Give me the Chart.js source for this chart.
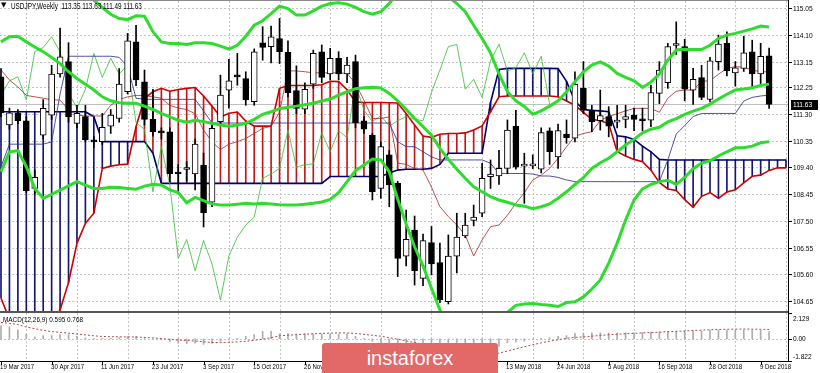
<!DOCTYPE html>
<html>
<head>
<meta charset="utf-8">
<script src="https://cdn.jsdelivr.net/npm/chart.js@4.4.0/dist/chart.umd.min.js"></script>
<style>
  html, body { margin: 0; padding: 0; background: #fff; }
  #wrap { position: relative; width: 820px; height: 373px; overflow: hidden; background: #fff; }
  #mainChart { position: absolute; left: 0; top: 0; }
  #macdChart { position: absolute; left: 0; top: 312px; }
  #logo { position: absolute; left: 322px; top: 343px; width: 176px; height: 30px; background: #e36868;
          border-radius: 3px 3px 0 0; color: #fff; font: 20px "Liberation Sans", Arial, sans-serif;
          line-height: 30px; text-align: center; }
</style>
</head>
<body>
<div id="wrap">
  <canvas id="mainChart" width="820" height="312"></canvas>
  <canvas id="macdChart" width="820" height="61"></canvas>
  <div id="logo">instaforex</div>
</div>
<script>
// USDJPY weekly, bar 0 = 19 Mar 2017, last bar = 16 Dec 2018
const dateLabels = ['19 Mar 2017', '30 Apr 2017', '11 Jun 2017', '23 Jul 2017', '3 Sep 2017', '15 Oct 2017',
    '26 Nov 2017', '7 Jan 2018', '18 Feb 2018', '1 Apr 2018', '13 May 2018', '24 Jun 2018',
    '5 Aug 2018', '16 Sep 2018', '28 Oct 2018', '9 Dec 2018'];
const dateTickBars = [0, 6, 12, 18, 24, 30, 36, 42, 48, 54, 60, 66, 72, 78, 84, 90];
const priceTicks = [115.05, 114.10, 113.15, 112.25, 111.30, 110.35, 109.40, 108.45, 107.50, 106.55, 105.60, 104.65];
const priceTickLabels = ['115.05', '114.10', '113.15', '112.25', '111.30', '110.35', '109.40', '108.45', '107.50', '106.55', '105.60', '104.65'];
const macdTicks = [2.129, 0, -1.822];
const macdTickLabels = ['2.129', '0.00', '-1.822'];

const openPrices = [112.61, 110.90, 111.33, 111.05, 108.65, 110.54, 111.25, 112.71, 113.15, 110.96,
    111.20, 110.33, 110.31, 110.86, 111.13, 112.08, 113.85, 112.43, 111.10, 110.64,
    110.66, 109.18, 109.32, 109.16, 109.48, 108.16, 111.02, 112.14, 112.63, 112.55,
    111.73, 113.82, 113.68, 113.97, 113.48, 112.12, 111.46, 112.35, 113.50, 112.71,
    113.27, 112.71, 113.15, 111.05, 110.54, 108.65, 109.84, 108.83, 106.25, 107.17,
    105.46, 106.73, 106.02, 104.63, 106.25, 106.96, 107.51, 107.77, 109.07, 109.09,
    109.36, 110.86, 109.44, 109.45, 109.33, 110.69, 109.77, 110.58, 110.43, 112.20,
    111.40, 111.05, 111.20, 111.00, 111.10, 111.25, 111.09, 111.07, 112.02, 112.40,
    113.72, 113.68, 112.14, 112.58, 111.81, 113.15, 113.80, 112.75, 112.91, 113.50,
    112.71, 113.35];
const highPrices = [112.90, 111.50, 111.45, 111.20, 109.30, 111.80, 113.02, 114.34, 113.82, 111.60,
    111.60, 110.50, 111.31, 111.45, 112.90, 114.15, 114.44, 112.85, 112.17, 110.80,
    110.80, 109.50, 109.60, 110.40, 109.90, 110.90, 112.67, 113.23, 113.44, 112.79,
    113.60, 114.39, 114.41, 114.68, 113.89, 113.00, 112.40, 113.56, 113.74, 113.62,
    113.50, 113.30, 113.38, 111.20, 110.60, 110.30, 110.00, 108.90, 107.88, 107.67,
    107.03, 107.30, 106.71, 107.00, 107.77, 107.77, 108.06, 109.54, 109.66, 110.00,
    111.08, 111.42, 109.90, 109.84, 110.80, 110.80, 110.93, 111.08, 112.79, 113.15,
    111.60, 112.14, 111.55, 111.60, 111.60, 111.50, 111.50, 112.32, 113.15, 113.80,
    114.56, 113.94, 112.91, 113.02, 113.30, 114.09, 114.21, 113.15, 114.05, 113.91,
    113.80, 113.63];
const lowPrices = [111.20, 110.75, 110.95, 108.50, 108.45, 110.40, 111.10, 112.60, 111.00, 110.80,
    110.30, 110.10, 110.20, 110.60, 111.00, 112.00, 112.30, 110.90, 110.50, 110.40,
    108.89, 108.50, 108.90, 108.60, 107.28, 108.00, 110.90, 111.50, 112.31, 111.60,
    111.60, 113.20, 113.10, 113.08, 111.90, 111.30, 111.30, 112.20, 112.40, 112.50,
    112.50, 112.40, 110.80, 110.60, 108.24, 108.30, 108.00, 105.52, 105.90, 105.22,
    105.20, 105.58, 104.60, 104.55, 105.65, 106.90, 107.32, 107.65, 108.65, 108.79,
    109.17, 109.33, 108.12, 109.35, 109.20, 109.50, 109.36, 110.25, 110.30, 111.30,
    110.66, 110.72, 110.48, 110.80, 110.80, 110.70, 110.70, 110.84, 111.66, 112.20,
    113.40, 111.76, 111.63, 111.80, 111.73, 112.85, 112.64, 112.28, 112.80, 112.23,
    112.37, 111.49];
const closePrices = [111.33, 111.33, 111.05, 108.57, 109.04, 111.49, 112.71, 113.32, 111.19, 111.31,
    110.37, 110.30, 110.82, 111.25, 112.35, 113.89, 112.50, 111.10, 110.66, 110.62,
    109.16, 109.16, 109.34, 110.22, 107.79, 110.78, 111.96, 112.47, 112.61, 111.79,
    113.50, 113.65, 114.03, 113.50, 112.05, 111.49, 112.17, 113.44, 112.59, 113.27,
    112.71, 113.03, 110.98, 110.75, 108.53, 110.13, 108.77, 106.17, 106.84, 105.73,
    106.80, 105.97, 104.69, 106.25, 106.92, 107.35, 107.63, 109.01, 109.16, 109.36,
    110.72, 109.40, 109.50, 109.52, 110.63, 109.95, 110.70, 110.45, 112.34, 111.43,
    111.02, 111.23, 110.86, 111.05, 111.20, 111.10, 111.05, 112.05, 112.85, 113.68,
    113.76, 112.17, 112.52, 111.88, 113.18, 113.77, 112.82, 112.93, 113.46, 112.71,
    113.34, 111.63];

// Ichimoku
const tenkan = [112.85, 112.50, 112.25, 111.95, 111.90, 111.85, 111.80, 111.78, 111.45, 111.25,
    111.22, 111.22, 111.22, 111.60, 111.80, 111.90, 111.95, 111.95, 111.90, 111.85,
    111.60, 111.50, 111.45, 111.30, 110.72, 110.30, 110.03, 110.22, 110.31, 110.42,
    110.60, 110.78, 110.86, 111.35, 112.82, 112.82, 112.79, 112.75, 112.75, 112.75,
    112.75, 112.73, 112.38, 111.78, 111.13, 111.13, 111.19, 109.55, 109.50, 109.35,
    109.30, 108.70, 108.00, 107.65, 107.35, 107.00, 106.25, 106.82, 107.29, 107.35,
    107.70, 108.12, 108.50, 108.95, 109.12, 109.36, 109.72, 110.13, 110.50, 110.60,
    110.66, 111.07, 111.20, 111.30, 111.40, 111.49, 111.49, 111.49, 111.35, 111.85,
    112.10, 112.14, 112.14, 112.45, 112.47, 112.70, 112.91, 112.97, 112.95, 112.85,
    112.79, 112.79];
const kijun = [109.42, 110.22, 110.22, 110.22, 110.22, 110.22, 110.30, 112.00, 113.34, 113.34,
    113.34, 113.34, 113.34, 113.34, 113.30, 112.97, 111.85, 111.81, 111.81, 111.81,
    111.81, 111.81, 111.81, 111.81, 111.40, 110.97, 110.97, 110.97, 110.97, 110.97,
    110.97, 110.97, 110.97, 110.97, 110.97, 110.97, 110.97, 110.97, 110.97, 110.97,
    110.97, 110.97, 110.97, 110.97, 110.97, 110.97, 110.97, 110.31, 110.13, 110.13,
    109.95, 109.77, 109.66, 109.66, 109.66, 109.66, 109.66, 109.66, 109.54, 109.18,
    109.18, 109.18, 109.18, 109.16, 109.09, 109.09, 109.04, 108.95, 108.89, 108.89,
    108.89, 108.89, 108.89, 108.89, 108.89, 108.89, 108.89, 108.89, 108.90, 109.66,
    110.58, 110.88, 111.20, 111.31, 111.31, 111.31, 111.31, 111.31, 111.75, 111.88,
    111.93, 111.96];
const chikou = [111.96, 112.47, 112.61, 111.79, 113.50, 113.65, 114.03, 113.50, 112.05, 111.49,
    112.17, 113.44, 112.59, 113.27, 112.71, 113.03, 110.98, 110.75, 108.53, 110.13,
    108.77, 106.17, 106.84, 105.73, 106.80, 105.97, 104.69, 106.25, 106.92, 107.35,
    107.63, 109.01, 109.16, 109.36, 110.72, 109.40, 109.50, 109.52, 110.63, 109.95,
    110.70, 110.45, 112.34, 111.43, 111.02, 111.23, 110.86, 111.05, 111.20, 111.10,
    111.05, 112.05, 112.85, 113.68, 113.76, 112.17, 112.52, 111.88, 113.18, 113.77,
    112.82, 112.93, 113.46, 112.71, 113.34, 111.63];
const senkouA = [104.76, 104.00, 103.60, 103.40, 103.40, 103.60, 103.90, 104.34, 105.31, 106.70,
    107.41, 107.77, 109.36, 109.44, 109.49, 109.51, 110.84, 111.84, 112.08, 112.20,
    112.10, 112.16, 112.20, 112.23, 111.93, 111.57, 111.18, 111.32, 111.36, 111.04,
    110.86, 110.86, 110.86, 112.20, 112.30, 112.30, 112.30, 112.30, 112.33, 112.45,
    112.44, 112.15, 111.72, 111.70, 111.70, 111.70, 111.69, 111.68, 111.31, 110.90,
    110.51, 110.46, 110.57, 110.60, 110.60, 110.62, 110.72, 110.87, 111.37, 111.90,
    111.93, 111.93, 111.93, 111.93, 111.93, 111.93, 111.90, 111.75, 111.60, 111.35,
    111.10, 111.05, 110.95, 109.95, 109.80, 109.68, 109.60, 109.30, 108.86, 108.63,
    108.58, 108.25, 107.98, 108.37, 108.50, 108.30, 108.52, 108.60, 108.85, 109.08,
    109.12, 109.29, 109.38, 109.38];
const senkouB = [111.37, 111.37, 111.37, 111.37, 111.37, 111.37, 111.37, 111.37, 111.37, 111.37,
    111.37, 111.20, 110.31, 110.31, 110.31, 110.31, 110.31, 110.31, 109.90, 108.83,
    108.83, 108.83, 108.83, 108.83, 108.83, 108.83, 108.83, 108.83, 108.83, 108.83,
    108.83, 108.83, 108.83, 108.83, 108.83, 108.83, 108.83, 108.83, 108.83, 109.07,
    109.07, 109.07, 109.07, 109.07, 109.07, 109.07, 109.20, 109.30, 109.33, 109.33,
    109.33, 109.36, 109.50, 109.90, 109.90, 109.90, 109.90, 109.90, 111.70, 112.87,
    112.91, 112.91, 112.91, 112.91, 112.91, 112.91, 112.90, 112.45, 111.75, 111.45,
    111.42, 111.40, 111.37, 110.52, 110.48, 110.39, 110.15, 109.95, 109.68, 109.66,
    109.66, 109.66, 109.66, 109.66, 109.66, 109.66, 109.66, 109.66, 109.66, 109.66,
    109.66, 109.66, 109.66, 109.66];

// Bollinger bands
const bbUpper = [118.40, 118.10, 118.10, 118.30, 118.70, 118.70, 118.20, 117.60, 116.80, 116.20,
    115.60, 115.33, 115.07, 114.83, 114.68, 114.64, 114.78, 114.76, 114.21, 113.85,
    113.79, 113.79, 113.76, 113.82, 113.82, 113.79, 113.70, 113.59, 113.73, 114.05,
    114.44, 114.60, 114.85, 115.12, 115.03, 114.80, 114.80, 114.95, 115.12, 115.21,
    115.24, 115.19, 115.07, 114.92, 114.83, 114.92, 115.21, 115.60, 116.00, 116.10,
    116.00, 116.00, 115.80, 115.45, 115.21, 114.92, 114.44, 113.97, 113.46, 112.71,
    112.08, 111.76, 111.56, 111.28, 111.40, 111.57, 111.76, 112.08, 112.43, 112.79,
    113.03, 113.14, 112.99, 112.73, 112.59, 112.47, 112.23, 112.42, 112.71, 113.20,
    113.56, 113.59, 113.58, 113.58, 113.73, 113.97, 114.09, 114.15, 114.23, 114.31,
    114.41, 114.38];
const bbMiddle = [113.85, 114.03, 114.05, 113.85, 113.67, 113.50, 113.30, 113.08, 112.79, 112.55,
    112.35, 112.14, 111.90, 111.76, 111.69, 111.67, 111.67, 111.57, 111.45, 111.31,
    111.19, 111.07, 111.00, 111.07, 111.02, 110.96, 110.90, 110.86, 110.90, 110.96,
    111.10, 111.28, 111.37, 111.48, 111.53, 111.57, 111.62, 111.67, 111.75, 111.82,
    111.96, 112.08, 112.19, 112.22, 112.24, 112.21, 112.02, 111.76, 111.46, 111.13,
    110.84, 110.54, 110.07, 109.68, 109.33, 109.01, 108.71, 108.53, 108.36, 108.24,
    108.16, 108.06, 108.02, 107.93, 108.00, 108.10, 108.30, 108.53, 108.79, 109.03,
    109.36, 109.56, 109.72, 109.95, 110.19, 110.39, 110.62, 110.75, 110.82, 111.01,
    111.13, 111.28, 111.39, 111.49, 111.64, 111.82, 111.99, 112.14, 112.18, 112.22,
    112.30, 112.35];
const bbLower = [109.24, 109.95, 109.99, 109.42, 108.65, 108.30, 108.44, 108.59, 108.74, 108.89,
    108.77, 108.65, 108.65, 108.69, 108.68, 108.65, 108.62, 108.73, 108.80, 108.77,
    108.60, 108.50, 108.14, 108.33, 108.22, 108.10, 108.06, 108.06, 108.09, 108.12,
    108.10, 108.12, 108.10, 108.07, 108.06, 108.06, 108.09, 108.12, 108.17, 108.26,
    108.50, 108.89, 109.28, 109.48, 109.69, 109.66, 109.24, 108.27, 107.39, 106.58,
    105.90, 105.11, 104.34, 103.70, 103.30, 103.20, 103.30, 103.50, 103.80, 104.00,
    104.25, 104.50, 104.55, 104.57, 104.53, 104.50, 104.46, 104.60, 104.63, 104.80,
    105.08, 105.40, 106.00, 106.71, 107.53, 108.24, 108.63, 108.79, 108.89, 108.94,
    108.79, 109.04, 109.35, 109.55, 109.63, 109.80, 109.95, 110.09, 110.09, 110.15,
    110.27, 110.31];

// MACD(12,26,9)
const macdMain = [1.08, 1.00, 0.75, 0.38, 0.16, 0.27, 0.27, 0.35, 0.35, 0.21,
    0.08, 0.04, 0.02, 0.04, 0.08, 0.20, 0.20, 0.10, 0.00, -0.08,
    -0.25, -0.35, -0.40, -0.35, -0.45, -0.35, -0.20, -0.08, 0.05, 0.20,
    0.35, 0.62, 0.62, 0.40, 0.43, 0.40, 0.43, 0.40, 0.40, 0.42,
    0.40, 0.40, 0.20, 0.05, -0.20, -0.30, -0.45, -0.80, -1.05, -1.35,
    -1.50, -1.62, -1.82, -1.78, -1.65, -1.50, -1.35, -1.12, -0.90, -0.62,
    -0.32, -0.26, -0.19, -0.05, 0.05, 0.10, 0.21, 0.27, 0.45, 0.49,
    0.49, 0.50, 0.49, 0.49, 0.50, 0.50, 0.52, 0.55, 0.58, 0.60,
    0.63, 0.65, 0.65, 0.65, 0.70, 0.72, 0.72, 0.72, 0.73, 0.72,
    0.72, 0.60];
const macdSignal = [1.35, 1.28, 1.18, 0.97, 0.84, 0.70, 0.60, 0.54, 0.47, 0.40,
    0.33, 0.25, 0.20, 0.18, 0.17, 0.16, 0.15, 0.12, 0.08, 0.02,
    -0.04, -0.10, -0.14, -0.18, -0.24, -0.30, -0.31, -0.28, -0.25, -0.20,
    -0.12, -0.03, 0.10, 0.25, 0.30, 0.34, 0.38, 0.42, 0.45, 0.48,
    0.49, 0.49, 0.45, 0.37, 0.29, 0.22, 0.10, -0.03, -0.17, -0.30,
    -0.45, -0.60, -0.75, -0.88, -1.00, -1.10, -1.17, -1.20, -1.21, -1.18,
    -1.00, -0.82, -0.65, -0.48, -0.33, -0.19, -0.08, 0.05, 0.12, 0.16,
    0.22, 0.28, 0.34, 0.38, 0.42, 0.46, 0.49, 0.52, 0.55, 0.59,
    0.62, 0.65, 0.69, 0.72, 0.75, 0.77, 0.79, 0.80, 0.81, 0.80,
    0.79, 0.77];

const X_MIN = -0.118;
const X_MAX = 93.24;
const FONT = '"Liberation Sans", Arial, sans-serif';

const xy = arr => arr.map((v, i) => ({ x: i, y: v }));

function squeezeText(ctx, text, x, y, size, color, squeeze, font) {
    ctx.font = size + 'px ' + (font || FONT);
    ctx.fillStyle = color;
    ctx.textAlign = 'left';
    ctx.textBaseline = 'middle';
    const w = ctx.measureText(text).width;
    ctx.fillText(text, x, y, w * squeeze);
}

function line(ctx, x1, y1, x2, y2) {
    ctx.beginPath();
    ctx.moveTo(x1, y1);
    ctx.lineTo(x2, y2);
    ctx.stroke();
}

function verticalGrid(ctx, x, a) {
    for (let i = 3; i < 94; i += 6) {
        const px = Math.round(x.getPixelForValue(i)) + 0.5;
        line(ctx, px, a.top, px, a.bottom);
    }
}

// grid, frame and texts of the price pane
const mainFrame = {
    id: 'mainFrame',
    beforeDatasetsDraw(chart) {
        const { ctx, chartArea: a, scales: { x, y } } = chart;
        ctx.save();
        ctx.strokeStyle = '#c4c4c4';
        ctx.lineWidth = 1;
        ctx.setLineDash([2, 2]);
        priceTicks.forEach(p => {
            const py = Math.round(y.getPixelForValue(p)) + 0.5;
            line(ctx, a.left, py, a.right, py);
        });
        verticalGrid(ctx, x, a);
        ctx.setLineDash([]);
        const bidY = Math.round(y.getPixelForValue(closePrices[closePrices.length - 1])) + 0.5;
        ctx.strokeStyle = '#c0c0c0';
        line(ctx, a.left, bidY, a.right, bidY);
        ctx.restore();
    },
    afterDraw(chart) {
        const { ctx, chartArea: a, scales: { y } } = chart;
        ctx.save();
        ctx.fillStyle = '#8a8a8a';
        ctx.fillRect(0, 0, a.right, 1);
        ctx.fillStyle = '#555';
        ctx.fillRect(0, 311, a.right, 1);
        ctx.fillStyle = '#000';
        ctx.fillRect(a.right, 0, 1, 312);
        priceTicks.forEach((p, k) => {
            const py = Math.round(y.getPixelForValue(p));
            ctx.fillStyle = '#000';
            ctx.fillRect(a.right, py, 4, 1);
            squeezeText(ctx, priceTickLabels[k], a.right + 5, py + 0.5, 8, '#000', 0.82);
        });
        const last = closePrices[closePrices.length - 1];
        const bidY = Math.round(y.getPixelForValue(last));
        ctx.fillStyle = '#000';
        ctx.fillRect(a.right + 3, bidY - 4, 27, 10);
        squeezeText(ctx, last.toFixed(2), a.right + 5, bidY + 1, 8, '#fff', 0.82);
        squeezeText(ctx, '\u25BC', 1, 5.5, 7, '#000', 1, '"DejaVu Sans", sans-serif');
        squeezeText(ctx, 'USDJPY,Weekly  113.35 113.63 111.49 111.63', 11, 6.5, 8.5, '#000', 0.75);
        ctx.restore();
    }
};

// grid, frame and texts of the MACD pane
const macdFrame = {
    id: 'macdFrame',
    beforeDatasetsDraw(chart) {
        const { ctx, chartArea: a, scales: { x, y } } = chart;
        ctx.save();
        ctx.strokeStyle = '#c4c4c4';
        ctx.lineWidth = 1;
        ctx.setLineDash([2, 2]);
        const zy = Math.round(y.getPixelForValue(0)) + 0.5;
        line(ctx, a.left, zy, a.right, zy);
        verticalGrid(ctx, x, a);
        ctx.restore();
    },
    afterDraw(chart) {
        const { ctx, chartArea: a, scales: { x, y } } = chart;
        ctx.save();
        ctx.fillStyle = '#555';
        ctx.fillRect(0, 0, a.right, 1);
        ctx.fillStyle = '#000';
        ctx.fillRect(0, 49, a.right + 1, 1);
        ctx.fillRect(a.right, 0, 1, 50);
        const labelY = [7, 27, 45];
        macdTicks.forEach((v, k) => {
            const py = Math.round(y.getPixelForValue(v));
            ctx.fillStyle = '#000';
            ctx.fillRect(a.right, py, 4, 1);
            squeezeText(ctx, macdTickLabels[k], a.right + 5, labelY[k], 8, '#000', 0.82);
        });
        dateTickBars.forEach((b, k) => {
            const px = Math.round(x.getPixelForValue(b));
            ctx.fillStyle = '#000';
            ctx.fillRect(px, 50, 1, 3);
            squeezeText(ctx, dateLabels[k], Math.max(0, px - 1), 55, 8, '#000', 0.76);
        });
        squeezeText(ctx, 'MACD(12,26,9) 0.595 0.768', 3, 7.5, 8, '#000', 0.8);
        ctx.restore();
    }
};

const lineSet = (data, color, width, order) => ({
    type: 'line', data: xy(data), borderColor: color, borderWidth: width,
    pointRadius: 0, tension: 0, fill: false, order: order
});

// price pane: cloud hatch, Ichimoku lines, candles, Bollinger bands
const mainCtx = document.getElementById('mainChart').getContext('2d');
const mainChart = new Chart(mainCtx, {
    type: 'bar',
    data: {
        datasets: [
            {
                type: 'bar',
                data: senkouA.map((v, i) => ({ x: i, y: [v, senkouB[i]] })),
                backgroundColor: senkouA.map((v, i) => v > senkouB[i] ? '#c01818' : '#16166e'),
                barThickness: 1, grouped: false, order: 20
            },
            lineSet(senkouA, '#cc0000', 1.6, 18),
            lineSet(senkouB, '#00006e', 1.6, 18),
            lineSet(tenkan, 'rgba(168, 40, 40, 0.8)', 1, 16),
            lineSet(kijun, 'rgba(50, 50, 150, 0.85)', 1, 16),
            lineSet(chikou, 'rgba(50, 190, 50, 0.8)', 1, 16),
            {
                type: 'bar',
                data: lowPrices.map((v, i) => ({ x: i, y: [v, highPrices[i]] })),
                backgroundColor: '#000', barThickness: 1, grouped: false, order: 6
            },
            {
                type: 'bar',
                data: openPrices.map((v, i) => ({ x: i, y: [v, closePrices[i]] })),
                backgroundColor: openPrices.map((v, i) => closePrices[i] >= v ? '#fff' : '#000'),
                borderColor: '#000', borderWidth: 1, borderSkipped: false,
                barThickness: 6, minBarLength: 2, grouped: false, order: 5
            },
            lineSet(bbUpper, '#2edc2e', 3, 1),
            lineSet(bbMiddle, '#2edc2e', 3, 1),
            lineSet(bbLower, '#2edc2e', 3, 1)
        ]
    },
    options: {
        responsive: false,
        animation: false,
        events: [],
        layout: { padding: { left: 0, right: 32, top: 1, bottom: 1 } },
        plugins: { legend: { display: false }, tooltip: { enabled: false } },
        scales: {
            x: { type: 'linear', display: false, min: X_MIN, max: X_MAX, offset: false },
            y: { type: 'linear', display: false, min: 104.30, max: 115.30 }
        }
    },
    plugins: [mainFrame]
});

// MACD pane
const macdCtx = document.getElementById('macdChart').getContext('2d');
const macdChart = new Chart(macdCtx, {
    type: 'bar',
    data: {
        datasets: [
            {
                type: 'bar', data: xy(macdMain), backgroundColor: '#adadad',
                barThickness: 1, grouped: false, order: 2
            },
            {
                type: 'line', data: xy(macdSignal), borderColor: '#b04848', borderWidth: 1,
                borderDash: [2, 2], pointRadius: 0, tension: 0, fill: false, order: 1
            }
        ]
    },
    options: {
        responsive: false,
        animation: false,
        events: [],
        layout: { padding: { left: 0, right: 32, top: 1, bottom: 12 } },
        plugins: { legend: { display: false }, tooltip: { enabled: false } },
        scales: {
            x: { type: 'linear', display: false, min: X_MIN, max: X_MAX, offset: false },
            y: { type: 'linear', display: false, min: -1.822, max: 2.129 }
        }
    },
    plugins: [macdFrame]
});
</script>
</body>
</html>
